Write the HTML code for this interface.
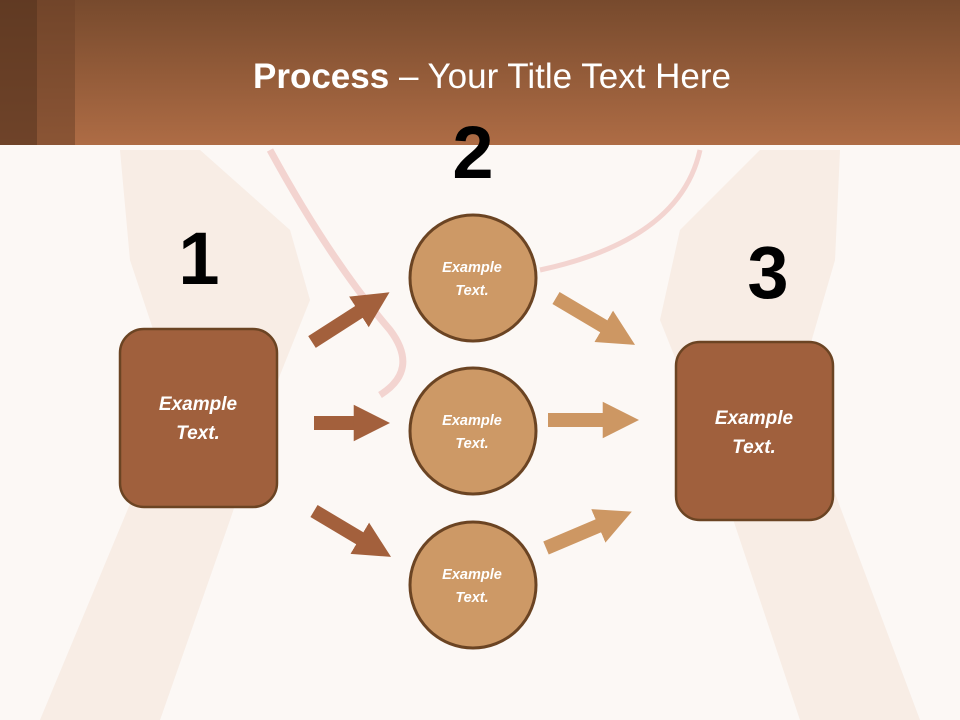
<!DOCTYPE html>
<html><head><meta charset="utf-8"><style>
html,body{margin:0;padding:0;width:960px;height:720px;overflow:hidden;background:#fcf8f5}
svg{display:block}
</style></head><body>
<svg width="960" height="720" viewBox="0 0 960 720" xmlns="http://www.w3.org/2000/svg" font-family="Liberation Sans, sans-serif">
<defs>
<linearGradient id="hd" x1="0" y1="0" x2="0" y2="1">
<stop offset="0" stop-color="#774a2d"/><stop offset="1" stop-color="#ae6c45"/>
</linearGradient>
<marker id="ma" viewBox="0 0 10 10" refX="2" refY="5" markerWidth="2.6" markerHeight="3" orient="auto" markerUnits="strokeWidth"><path d="M0,0L10,5L0,10z" fill="#a3603c"/></marker>
<marker id="mb" viewBox="0 0 10 10" refX="2" refY="5" markerWidth="2.6" markerHeight="3" orient="auto" markerUnits="strokeWidth"><path d="M0,0L10,5L0,10z" fill="#cd9763"/></marker>
</defs>
<rect width="960" height="720" fill="#fcf8f5"/>
<path d="M120,150 L200,150 L290,230 L310,300 L270,400 L230,520 L160,720 L40,720 L140,480 L170,380 L130,260 Z" fill="#f3e2d6" opacity="0.5"/>
<path d="M840,150 L760,150 L680,230 L660,320 L700,420 L740,540 L800,720 L920,720 L830,480 L800,380 L835,260 Z" fill="#f3e2d6" opacity="0.5"/>
<path d="M270,150 Q330,260 390,330 Q420,370 380,395" fill="none" stroke="#f0c4c0" stroke-width="7" opacity="0.7"/>
<path d="M700,150 Q680,240 540,270" fill="none" stroke="#f0c4c0" stroke-width="5" opacity="0.7"/>
<rect x="0" y="0" width="960" height="145" fill="url(#hd)"/>
<rect x="0" y="0" width="37" height="145" fill="#5a3520" opacity="0.75"/>
<rect x="37" y="0" width="38" height="145" fill="#6e4128" opacity="0.55"/>
<text x="492" y="88" text-anchor="middle" font-size="35" fill="#fff"><tspan font-weight="bold">Process</tspan> – Your Title Text Here</text>
<g font-weight="bold" font-size="74" fill="#000" text-anchor="middle">
<text x="199" y="284">1</text><text x="473" y="178">2</text><text x="768" y="298">3</text>
</g>
<g stroke-width="14">
<line x1="312" y1="342" x2="365" y2="308" stroke="#a3603c" marker-end="url(#ma)"/>
<line x1="314" y1="423" x2="361" y2="423" stroke="#a3603c" marker-end="url(#ma)"/>
<line x1="314" y1="511" x2="366" y2="542" stroke="#a3603c" marker-end="url(#ma)"/>
<line x1="556" y1="298" x2="610" y2="330" stroke="#cd9763" marker-end="url(#mb)"/>
<line x1="548" y1="420" x2="610" y2="420" stroke="#cd9763" marker-end="url(#mb)"/>
<line x1="546" y1="548" x2="605" y2="523" stroke="#cd9763" marker-end="url(#mb)"/>
</g>
<rect x="120" y="329" width="157" height="178" rx="24" fill="#a0603d" stroke="#6b4423" stroke-width="2.5"/>
<rect x="676" y="342" width="157" height="178" rx="24" fill="#a0603d" stroke="#6b4423" stroke-width="2.5"/>
<g fill="#cd9966" stroke="#6b4423" stroke-width="3">
<circle cx="473" cy="278" r="63"/><circle cx="473" cy="431" r="63"/><circle cx="473" cy="585" r="63"/>
</g>
<g fill="#fff" font-weight="bold" font-style="italic" text-anchor="middle">
<g font-size="19"><text x="198" y="410">Example</text><text x="198" y="439">Text.</text>
<text x="754" y="424">Example</text><text x="754" y="453">Text.</text></g>
<g font-size="14.5"><text x="472" y="272">Example</text><text x="472" y="295">Text.</text>
<text x="472" y="425">Example</text><text x="472" y="448">Text.</text>
<text x="472" y="579">Example</text><text x="472" y="602">Text.</text></g>
</g>
</svg>
</body></html>
